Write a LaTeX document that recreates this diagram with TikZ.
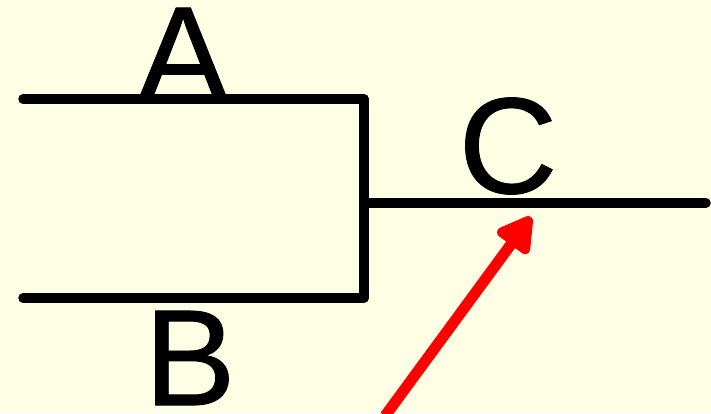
\documentclass[tikz,border=0pt]{standalone}
\usepackage{fontspec}
\setmainfont[FakeBold=0.6]{Liberation Sans}
\usetikzlibrary{arrows.meta}
\definecolor{paper}{HTML}{FFFFE6}

\begin{document}
\begin{tikzpicture}[
  x=1pt, y=-1pt,
  every node/.style={font=\fontsize{137}{137}\selectfont, inner sep=0pt},
  wire/.style={line width=9.5pt, line cap=round},
  pointer/.style={-{Triangle[length=40pt, width=43pt, round]}, red, line width=11pt},
]
%% background
\fill[paper, use as bounding box] (0,0) rectangle (711,413);

%% wires
\coordinate (inA) at (23,99);
\coordinate (inB) at (23,298);
\coordinate (top) at (364,99);
\coordinate (bot) at (364,298);
\coordinate (mid) at (364,203);
\coordinate (out) at (706,203);
\draw[wire] (inA) -- (top);
\draw[wire] (top) -- (bot);
\draw[wire] (inB) -- (bot);
\draw[wire] (mid) -- (out);

%% labels
\node (labA) at (183,55) {A};
\node (labB) at (190,358) {B};
\node (labC) at (508,146) {C};

%% arrow
\coordinate (tail) at (385,416);
\coordinate (head) at (531,217);
\draw[pointer] (tail) -- (head);
\end{tikzpicture}
\end{document}
